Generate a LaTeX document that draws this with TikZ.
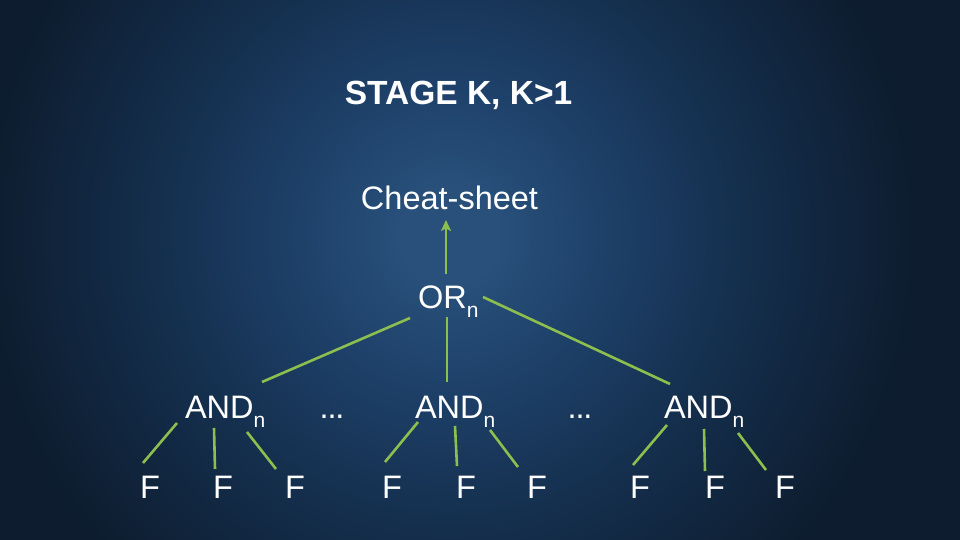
\documentclass[tikz,border=0pt]{standalone}
\usepackage{fontspec}
\setmainfont{Liberation Sans}
\usetikzlibrary{arrows.meta}
\definecolor{bgin}{HTML}{28507A}
\definecolor{bgmid}{HTML}{1E416A}
\definecolor{bgmid2}{HTML}{142E4C}
\definecolor{bgout}{HTML}{0D1C2E}
\definecolor{linkgreen}{HTML}{8DBF4E}
\pgfdeclareradialshading{bgshade}{\pgfpoint{0bp}{0bp}}{color(0bp)=(bgin); color(2bp)=(bgin); color(6bp)=(bgmid); color(12bp)=(bgmid2); color(19bp)=(bgout); color(50bp)=(bgout)}
\newcommand{\subn}{\raisebox{-0.3em}{\fontsize{21}{21}\selectfont n}}
\newcommand{\dotsx}{.\kern-1.2pt.\kern-1.2pt.}
\begin{document}
\begin{tikzpicture}[x=1pt,y=-1pt,
  txt/.style={text=white,inner sep=0pt,outer sep=0pt,font=\fontsize{32.5}{38}\selectfont},
  ttl/.style={text=white,inner sep=0pt,font=\fontsize{33.5}{40}\selectfont\bfseries},
  link/.style={draw=linkgreen,line width=2.6pt}]
\useasboundingbox (0,0) rectangle (960,540);
\begin{scope}
\clip (0,0) rectangle (960,540);
\fill[bgout] (0,0) rectangle (960,540);
\shade[shading=bgshade] (-170,-385) rectangle (1070,855);
\end{scope}
% texts
\node[ttl,anchor=base] (title) at (458.5,105) {STAGE K, K>1};
\node[txt,anchor=base] (cheat) at (449.5,209) {Cheat-sheet};
\node[txt,anchor=base west] (or) at (418,308) {OR\subn};
\node[txt,anchor=base west] (and1) at (185,418) {AND\subn};
\node[txt,anchor=base west] (and2) at (415,418) {AND\subn};
\node[txt,anchor=base west] (and3) at (664,418) {AND\subn};
\node[txt,anchor=base] (dots1) at (332,418) {\dotsx};
\node[txt,anchor=base] (dots2) at (580,418) {\dotsx};
\foreach \n/\x in {f1/140,f2/213,f3/285,f4/382,f5/456,f6/527,f7/630,f8/705,f9/775}
  \node[txt,anchor=base west] (\n) at (\x,498) {F};
% connectors
\draw[link,-{Stealth[length=11pt,width=10pt,inset=2.5pt]}] ([shift={(28,-34)}]or.base west) -- ([shift={(-3.5,11)}]cheat.base);
\draw[link] ([shift={(-8,10)}]or.base west) -- ([shift={(77,-36)}]and1.base west);
\draw[link] ([shift={(29,9)}]or.base west) -- ([shift={(32,-36)}]and2.base west);
\draw[link] ([shift={(65,-11)}]or.base west) -- ([shift={(6,-34)}]and3.base west);
\draw[link] ([shift={(-8,5)}]and1.base west) -- ([shift={(3,-35)}]f1.base west);
\draw[link] ([shift={(29,10)}]and1.base west) -- ([shift={(2,-29)}]f2.base west);
\draw[link] ([shift={(62,14)}]and1.base west) -- ([shift={(-9,-29)}]f3.base west);
\draw[link] ([shift={(3,4)}]and2.base west) -- ([shift={(3,-36)}]f4.base west);
\draw[link] ([shift={(40,8)}]and2.base west) -- ([shift={(1,-32)}]f5.base west);
\draw[link] ([shift={(75,12)}]and2.base west) -- ([shift={(-9,-31)}]f6.base west);
\draw[link] ([shift={(3,7)}]and3.base west) -- ([shift={(3,-33)}]f7.base west);
\draw[link] ([shift={(40,11)}]and3.base west) -- ([shift={(0,-27)}]f8.base west);
\draw[link] ([shift={(74,15)}]and3.base west) -- ([shift={(-9,-28)}]f9.base west);
\end{tikzpicture}
\end{document}
